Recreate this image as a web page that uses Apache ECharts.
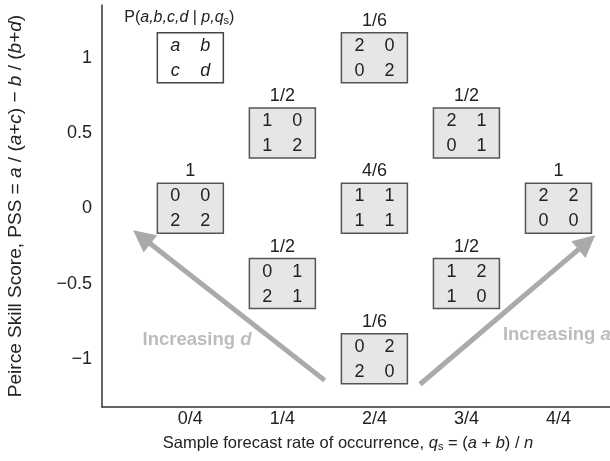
<!DOCTYPE html>
<html>
<head>
<meta charset="utf-8">
<script src="https://cdn.jsdelivr.net/npm/echarts@6/dist/echarts.min.js"></script>
<style>
html,body{margin:0;padding:0;background:#fff;}
#chart{width:610px;height:461px;}
</style>
</head>
<body>
<div id="chart"></div>
<script>
// ---- data ----
const qsCategories = ['0/4', '1/4', '2/4', '3/4', '4/4'];
const qsTickValues = [0, 0.25, 0.5, 0.75, 1];
const pssTickValues = [1, 0.5, 0, -0.5, -1];

const boxQs  = [0.5, 0.25, 0.75, 0, 0.5, 1, 0.25, 0.75, 0.5];
const boxPss = [1, 0.5, 0.5, 0, 0, 0, -0.5, -0.5, -1];
const cellA  = [2, 1, 2, 0, 1, 2, 0, 1, 0];
const cellB  = [0, 0, 1, 0, 1, 2, 1, 2, 2];
const cellC  = [0, 1, 0, 2, 1, 0, 2, 1, 2];
const cellD  = [2, 2, 1, 2, 1, 0, 1, 0, 0];
const probLabels = ['1/6', '1/2', '1/2', '1', '4/6', '1', '1/2', '1/2', '1/6'];

const templateQs = [0];
const templatePss = [1];

const arrowStarts = [[0.365, -1.143], [0.624, -1.169]];
const arrowEnds   = [[-0.132, -0.191], [1.077, -0.227]];

const noteQs  = [0.018, 0.849];
const notePss = [-0.877, -0.844];
const noteLetters = ['d', 'a'];

// ---- chart ----
const FONT = '"Liberation Sans", Arial, Helvetica, sans-serif';
const INK = '#222';
const chart = echarts.init(document.getElementById('chart'));

const BW = 66, BH = 50;

function renderBox(params, api) {
  const i = params.dataIndex;
  const c = api.coord([api.value(0), api.value(1)]);
  const txt = (t, x, y) => ({
    type: 'text',
    style: { text: String(t), x: x, y: y, align: 'center', verticalAlign: 'middle',
             fontSize: 18, fontFamily: FONT, fill: INK }
  });
  return {
    type: 'group',
    children: [
      { type: 'rect', shape: { x: c[0] - BW / 2, y: c[1] - BH / 2, width: BW, height: BH },
        style: { fill: '#e6e6e6', stroke: '#555', lineWidth: 1.5 } },
      txt(cellA[i], c[0] - 15, c[1] - 12),
      txt(cellB[i], c[0] + 15, c[1] - 12),
      txt(cellC[i], c[0] - 15, c[1] + 13),
      txt(cellD[i], c[0] + 15, c[1] + 13),
      txt(probLabels[i], c[0], c[1] - BH / 2 - 12)
    ]
  };
}

function renderTemplate(params, api) {
  const c = api.coord([api.value(0), api.value(1)]);
  const it = (t, x, y) => ({
    type: 'text',
    style: { text: t, x: x, y: y, align: 'center', verticalAlign: 'middle',
             fontSize: 18, fontStyle: 'italic', fontFamily: FONT, fill: INK }
  });
  return {
    type: 'group',
    children: [
      { type: 'rect', shape: { x: c[0] - BW / 2, y: c[1] - BH / 2, width: BW, height: BH },
        style: { fill: '#fff', stroke: '#444', lineWidth: 1.5 } },
      it('a', c[0] - 15, c[1] - 12),
      it('b', c[0] + 15, c[1] - 12),
      it('c', c[0] - 15, c[1] + 13),
      it('d', c[0] + 15, c[1] + 13),
      { type: 'text',
        style: {
          text: '{n|P(}{i|a,b,c,d}{n| | }{i|p,q}{s|s}{n|)}',
          x: c[0] - 11, y: c[1] - BH / 2 - 15, align: 'center', verticalAlign: 'middle',
          rich: {
            n: { fontSize: 16, fontFamily: FONT, fill: INK },
            i: { fontSize: 16, fontFamily: FONT, fontStyle: 'italic', fill: INK },
            s: { fontSize: 11, fontFamily: FONT, fill: INK, padding: [6, 0, 0, 0] }
          }
        } }
    ]
  };
}

const option = {
  animation: false,
  backgroundColor: '#fff',
  grid: { left: 102, right: 0, top: 5, bottom: 54, containLabel: false, outerBoundsMode: 'none' },
  xAxis: {
    type: 'value',
    min: -0.24, max: 1.14,
    splitLine: { show: false },
    axisTick: { show: false },
    axisLine: { show: true, onZero: false, lineStyle: { color: '#333', width: 1.5 } },
    axisLabel: {
      customValues: qsTickValues,
      formatter: v => qsCategories[Math.round(v * 4)],
      fontSize: 18, fontFamily: FONT, color: INK, margin: 3
    },
    name: '{n|Sample forecast rate of occurrence, }{i|q}{s|s}{n| = (}{i|a}{n| + }{i|b}{n|) / }{i|n}',
    nameLocation: 'middle',
    nameGap: 28,
    nameTextStyle: {
      padding: [0, 16, 0, 0],
      rich: {
        n: { fontSize: 16.5, fontFamily: FONT, color: INK },
        i: { fontSize: 16.5, fontFamily: FONT, fontStyle: 'italic', color: INK },
        s: { fontSize: 11, fontFamily: FONT, color: INK, padding: [6, 0, 0, 0] }
      }
    }
  },
  yAxis: {
    type: 'value',
    min: -1.32, max: 1.35,
    splitLine: { show: false },
    axisTick: { show: false },
    axisLine: { show: true, onZero: false, lineStyle: { color: '#333', width: 1.5 } },
    axisLabel: {
      customValues: pssTickValues,
      formatter: v => (v < 0 ? '\u2212' + Math.abs(v) : String(v)),
      fontSize: 18, fontFamily: FONT, color: INK, margin: 10
    },
    name: '{n|Peirce Skill Score, PSS = }{i|a}{n| / (}{i|a}{n|+}{i|c}{n|) \u2212 }{i|b}{n| / (}{i|b}{n|+}{i|d}{n|)}',
    nameLocation: 'middle',
    nameGap: 77,
    nameTextStyle: {
      rich: {
        n: { fontSize: 19, fontFamily: FONT, color: INK },
        i: { fontSize: 19, fontFamily: FONT, fontStyle: 'italic', color: INK }
      }
    }
  },
  series: [
    {
      type: 'custom',
      renderItem: renderBox,
      data: boxQs.map((q, i) => [q, boxPss[i]]),
      z: 3
    },
    {
      type: 'custom',
      renderItem: renderTemplate,
      data: templateQs.map((q, i) => [q, templatePss[i]]),
      z: 3
    },
    {
      type: 'scatter',
      symbolSize: 0,
      silent: true,
      data: noteQs.map((q, i) => [q, notePss[i]]),
      label: {
        show: true,
        position: 'inside',
        formatter: p => '{b|Increasing }{bi|' + noteLetters[p.dataIndex] + '}',
        rich: {
          b: { fontSize: 18.5, fontWeight: 'bold', fontFamily: FONT, color: '#ababab' },
          bi: { fontSize: 18.5, fontWeight: 'bold', fontStyle: 'italic', fontFamily: FONT, color: '#ababab' }
        }
      },
      labelLayout: p => p.dataIndex === 1 ? { align: 'left' } : {},
      markLine: {
        silent: true,
        symbol: ['none', 'triangle'],
        symbolSize: 22,
        label: { show: false },
        lineStyle: { color: '#aaaaaa', width: 5, type: 'solid' },
        data: arrowStarts.map((s, i) => [{ coord: s }, { coord: arrowEnds[i] }])
      },
      z: 2
    }
  ]
};
chart.setOption(option);
</script>
</body>
</html>
